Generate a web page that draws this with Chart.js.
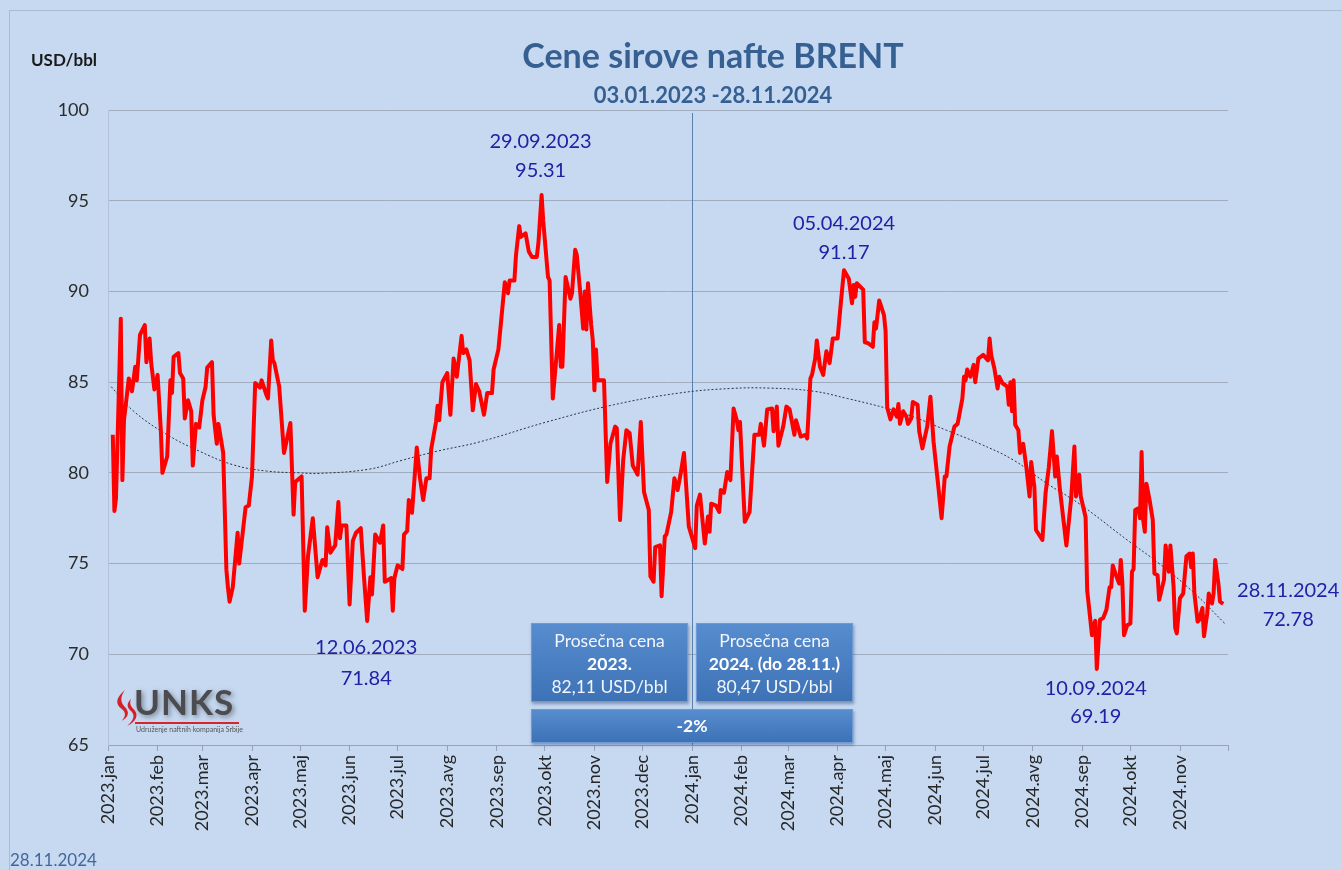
<!DOCTYPE html>
<html>
<head>
<meta charset="utf-8">
<title>Cene sirove nafte BRENT</title>
<script src="https://cdn.jsdelivr.net/npm/chart.js@4.4.1/dist/chart.umd.min.js"></script>
<style>
  body { margin: 0; background: #c6d9f1; font-family: Lato, "Noto Sans", sans-serif; }
  #wrap { position: relative; width: 1342px; height: 870px; overflow: hidden; }
  #c { position: absolute; left: 0; top: 0; }
  .frame { position: absolute; left: 9px; top: 10px; right: -2px; bottom: -2px; border-top: 1px solid #a9bcd6; border-left: 1px solid #a9bcd6; pointer-events: none; }
  .txt { position: absolute; white-space: nowrap; }
  #title { left: 413px; width: 600px; top: 35px; text-align: center; font-size: 34px; font-weight: bold; color: #376092; line-height: 40px; }
  #sub { left: 413px; width: 600px; top: 81px; text-align: center; font-size: 22px; font-weight: bold; color: #376092; line-height: 28px; }
  #unit { left: 31px; top: 50px; font-size: 17px; font-weight: bold; color: #1a1a1a; line-height: 20px; }
  #stamp { left: 10px; top: 850px; font-size: 17px; color: #44679a; line-height: 20px; }
  .box { position: absolute; color: #f2f6fb; text-align: center; font-size: 17.5px; line-height: 23px;
         background: linear-gradient(#578ccf, #3e72b6); border: 1px solid #6d9bd6; box-shadow: 1px 2px 3px rgba(40,60,100,0.45); box-sizing: border-box; }
  .box b { font-weight: bold; color: #ffffff; }
  #logo { position: absolute; left: 110px; top: 686px; width: 134px; height: 48px; }
  #logo .name { position: absolute; left: 24px; top: -6px; font-size: 35px; font-weight: bold; letter-spacing: 1px; color: #4b4b50; text-shadow: 2px 2px 5px rgba(50,50,50,0.5); }
  #logo .bar { position: absolute; left: 25px; top: 36px; width: 104px; height: 2px; background: #d6262b; }
  #logo .small { position: absolute; left: 26px; top: 39px; font-size: 7px; color: #555; }
</style>
</head>
<body>
<div id="wrap">
  <canvas id="c" width="1342" height="870"></canvas>
  <div class="frame"></div>
  <div class="txt" id="title">Cene sirove nafte BRENT</div>
  <div class="txt" id="sub">03.01.2023 -28.11.2024</div>
  <div class="txt" id="unit">USD/bbl</div>
  <div class="txt" id="stamp">28.11.2024</div>

  <div class="box" style="left:531px;top:623px;width:157px;height:79px;padding-top:5px;">Prosečna cena<br><b>2023.</b><br>82,11 USD/bbl</div>
  <div class="box" style="left:696px;top:623px;width:157px;height:79px;padding-top:5px;">Prosečna cena<br><b>2024. (do 28.11.)</b><br>80,47 USD/bbl</div>
  <div class="box" style="left:531px;top:709px;width:322px;height:34px;line-height:32px;"><b>-2%</b></div>

  <div id="logo">
    <svg width="28" height="38" viewBox="0 0 26 36" style="position:absolute;left:2px;top:3px;">
      <path d="M12 1 C4 8 2 14 9 19 C13 22 13 26 9 30 C15 27 17 22 12 17 C7 12 8 7 12 1 Z" fill="#d42127"/>
      <path d="M18 9 C13 14 14 18 18 21 C22 25 20 30 14 35 C23 31 25 25 21 20 C17 16 16 13 18 9 Z" fill="#d42127"/>
    </svg>
    <div class="name">UNKS</div>
    <div class="bar"></div>
    <div class="small">Udruženje naftnih kompanija Srbije</div>
  </div>
</div>

<script>
// dnevne cene BRENT, dan = broj dana od 01.01.2023.
const priceDay = [
  3, 4, 5, 8, 9, 10, 13, 15, 17, 18, 20, 23, 24, 26, 27, 29, 31, 33, 34, 37,
  39, 40, 41, 44, 45, 47, 48, 50, 52, 53, 55, 57, 59, 61, 62, 65, 66, 68, 69, 72,
  74, 75, 76, 78, 81, 82, 86, 88, 90, 92, 95, 96, 99, 100, 102, 103, 104, 107, 110, 114,
  116, 117, 121, 123, 125, 128, 131, 134, 136, 137, 139, 142, 144, 145, 146, 149, 151, 153, 155, 158,
  160, 162, 164, 165, 167, 170, 172, 173, 175, 177, 178, 179, 181, 184, 185, 187, 188, 190, 193, 195,
  197, 199, 201, 202, 205, 206, 207, 209, 212, 214, 216, 218, 221, 222, 224, 226, 228, 230, 232, 235,
  237, 240, 241, 244, 248, 250, 251, 254, 255, 257, 258, 261, 263, 265, 268, 269, 271, 272, 275, 276,
  278, 279, 282, 283, 284, 286, 289, 290, 292, 293, 295, 297, 298, 299, 300, 302, 303, 304, 305, 306,
  310, 312, 314, 317, 318, 320, 322, 324, 326, 328, 331, 333, 335, 338, 339, 341, 342, 345, 346, 348,
  349, 352, 354, 356, 358, 360, 363, 367, 368, 370, 373, 375, 376, 377, 380, 382, 383, 385, 387, 389,
  391, 393, 394, 395, 398, 401, 404, 407, 408, 410, 412, 415, 416, 418, 419, 422, 424, 426, 429, 430,
  433, 436, 437, 439, 440, 442, 443, 445, 447, 449, 451, 453, 456, 458, 460, 463, 465, 466, 467, 468,
  472, 473, 475, 478, 479, 480, 482, 485, 486, 487, 489, 491, 493, 494, 495, 497, 499, 500, 502, 503,
  506, 507, 509, 512, 514, 516, 519, 521, 523, 524, 526, 529, 531, 534, 535, 536, 537, 539, 541, 542,
  544, 547, 549, 550, 551, 552, 554, 556, 557, 559, 562, 563, 564, 565, 566, 567, 569, 570, 572, 574,
  576, 577, 579, 580, 584, 586, 588, 590, 592, 593, 595, 599, 602, 604, 605, 607, 608, 611, 612, 613,
  615, 617, 618, 620, 622, 624, 626, 627, 628, 630, 632, 633, 634, 635, 637, 639, 640, 641, 642, 644,
  645, 646, 647, 648, 649, 651, 653, 654, 656, 657, 660, 661, 663, 664, 666, 667, 668, 670, 672, 674,
  676, 677, 678, 679, 681, 682, 684, 685, 687, 688, 690, 691, 692, 694, 695, 697
];
const priceUSD = [
  82.1, 77.9, 78.6, 88.5, 79.6, 82.9, 85.2, 84.5, 85.85, 85.1, 87.6, 88.15, 86.1, 87.4, 86.05, 84.6, 85.4, 82.4, 80.0, 80.9,
  85.1, 84.4, 86.4, 86.6, 85.5, 85.2, 83.0, 84.0, 83.4, 80.4, 82.7, 82.5, 84.0, 84.75, 85.8, 86.1, 83.2, 81.6, 82.7, 81.1,
  74.65, 73.65, 72.9, 73.7, 76.7, 75.0, 78.1, 78.2, 79.8, 84.95, 84.7, 85.1, 84.3, 84.1, 87.3, 86.2, 86.05, 84.75, 81.1, 82.75,
  77.7, 79.5, 79.8, 72.4, 75.4, 77.5, 74.25, 75.2, 74.9, 77.0, 75.6, 76.0, 78.4, 76.4, 77.1, 77.1, 72.75, 76.25, 76.7, 76.95,
  74.25, 71.84, 74.25, 73.3, 76.6, 76.15, 77.1, 74.0, 74.1, 74.2, 72.4, 74.2, 74.9, 74.7, 76.6, 76.8, 78.5, 77.8, 81.4, 79.7,
  78.5, 79.7, 79.7, 81.3, 82.8, 83.7, 82.9, 85.0, 85.5, 83.2, 86.3, 85.3, 87.55, 86.6, 86.8, 86.2, 83.45, 84.9, 84.5, 83.2,
  84.4, 84.4, 85.7, 86.8, 90.5, 89.9, 90.6, 90.6, 92.0, 93.6, 93.0, 93.2, 92.2, 91.9, 91.9, 92.65, 95.31, 93.9, 90.8, 90.6,
  84.1, 85.1, 88.15, 85.85, 85.85, 90.8, 89.6, 89.9, 92.3, 92.0, 90.1, 87.95, 90.0, 87.9, 90.45, 88.15, 87.3, 84.55, 86.8, 85.1,
  85.1, 79.5, 81.6, 82.55, 82.45, 77.4, 80.7, 82.35, 82.2, 80.4, 79.9, 82.8, 78.95, 77.95, 74.3, 74.0, 75.9, 76.0, 73.2, 76.5,
  76.6, 77.85, 79.7, 79.05, 80.0, 81.1, 77.05, 75.85, 78.2, 78.8, 76.1, 77.6, 76.75, 78.3, 78.2, 77.85, 79.05, 78.9, 80.05, 79.6,
  83.55, 82.9, 82.35, 82.8, 77.3, 77.85, 82.1, 82.1, 82.7, 81.5, 83.5, 83.55, 82.3, 83.65, 81.5, 82.55, 83.65, 83.5, 82.1, 82.9,
  82.0, 82.1, 81.9, 85.2, 85.4, 86.3, 87.3, 85.85, 85.4, 86.7, 86.05, 87.4, 87.4, 89.35, 91.17, 90.7, 89.35, 90.35, 89.7, 90.45,
  90.1, 87.2, 87.15, 86.95, 88.3, 87.95, 89.5, 88.7, 87.8, 83.6, 82.95, 83.5, 83.1, 83.8, 82.7, 83.4, 83.1, 82.7, 83.0, 83.9,
  83.75, 82.3, 81.35, 82.55, 84.2, 81.7, 79.2, 77.5, 79.8, 79.8, 81.45, 82.55, 82.7, 84.1, 85.3, 85.1, 85.7, 85.3, 85.95, 85.0,
  86.3, 86.5, 86.3, 86.2, 87.4, 86.5, 85.75, 84.65, 85.3, 84.95, 84.75, 83.75, 85.0, 83.4, 85.1, 82.65, 82.35, 81.1, 81.6, 80.3,
  78.7, 80.6, 79.2, 76.85, 76.3, 78.9, 80.3, 82.3, 79.8, 80.9, 79.05, 76.0, 78.6, 81.45, 78.7, 79.9, 78.7, 77.55, 73.5, 72.7,
  71.05, 71.85, 69.19, 71.9, 72.0, 72.45, 73.7, 73.7, 74.9, 74.35, 73.9, 75.2, 73.9, 71.05, 71.6, 71.7, 74.55, 74.7, 77.95, 78.05,
  77.5, 81.15, 77.4, 76.75, 79.4, 78.5, 77.4, 74.45, 74.35, 73.0, 74.1, 76.0, 74.55, 76.0, 73.7, 71.45, 71.15, 73.1, 73.35, 75.4,
  75.55, 74.8, 75.55, 73.35, 71.8, 71.9, 72.55, 71.0, 72.25, 73.35, 72.8, 73.35, 75.2, 73.9, 72.9, 72.78
];

// polinomski trend (očitano sa grafika)
const trendDay = [2, 16, 37, 57, 78, 99, 120, 132, 163, 184, 206, 232, 274, 316, 357, 389, 414, 441, 462, 487, 503, 524, 545, 566, 587, 607, 637, 657, 678, 698];
const trendUSD = [84.75, 83.4, 82.1, 81.2, 80.45, 80.1, 80.0, 79.97, 80.2, 80.7, 81.2, 81.7, 82.8, 83.75, 84.4, 84.65, 84.67, 84.5, 84.1, 83.55, 83.1, 82.35, 81.6, 80.7, 79.4, 78.3, 76.3, 75.0, 73.45, 71.7];

const monthLabels = ['2023.jan', '2023.feb', '2023.mar', '2023.apr', '2023.maj', '2023.jun', '2023.jul', '2023.avg',
  '2023.sep', '2023.okt', '2023.nov', '2023.dec', '2024.jan', '2024.feb', '2024.mar', '2024.apr', '2024.maj',
  '2024.jun', '2024.jul', '2024.avg', '2024.sep', '2024.okt', '2024.nov'];
const yTicks = [65, 70, 75, 80, 85, 90, 95, 100];

// oznake ekstrema
const noteDates = ['29.09.2023', '12.06.2023', '05.04.2024', '10.09.2024', '28.11.2024'];
const noteValues = [95.31, 71.84, 91.17, 69.19, 72.78];
const noteOffsets = [[-1, -54, -25], [-1, 27, 58], [0, -47, -18], [-1, 20, 48], [65, -13, 16]];

const DAY = 86400000;
const start = Date.UTC(2023, 0, 1);
function dayOf(s) {
  const p = s.split('.');
  return Math.round((Date.UTC(+p[2], +p[1] - 1, +p[0]) - start) / DAY);
}
// granice meseci (poslednja je 01.12.2024)
const tickDays = [];
for (let i = 0; i <= monthLabels.length; i++) tickDays.push(Math.round((Date.UTC(2023, i, 1) - start) / DAY));
const yearSplit = dayOf('01.01.2024');

const extras = {
  id: 'extras',
  beforeDatasetsDraw(chart) {
    const { ctx, chartArea, scales: { x } } = chart;
    const px = Math.round(x.getPixelForValue(yearSplit)) + 0.5;
    ctx.save();
    ctx.strokeStyle = '#5b80ad';
    ctx.lineWidth = 1;
    ctx.beginPath();
    ctx.moveTo(px, chartArea.top + 3);
    ctx.lineTo(px, chartArea.bottom);
    ctx.stroke();
    ctx.restore();
  },
  afterDatasetsDraw(chart) {
    const { ctx, scales: { x, y } } = chart;
    ctx.save();
    ctx.font = '20px Lato, "Noto Sans", sans-serif';
    ctx.fillStyle = '#2121a6';
    ctx.textAlign = 'center';
    ctx.textBaseline = 'middle';
    noteDates.forEach((d, i) => {
      const px = x.getPixelForValue(dayOf(d));
      const py = y.getPixelForValue(noteValues[i]);
      const o = noteOffsets[i];
      ctx.fillText(d, px + o[0], py + o[1]);
      ctx.fillText(noteValues[i].toFixed(2), px + o[0], py + o[2]);
    });
    ctx.restore();
  }
};

new Chart(document.getElementById('c'), {
  type: 'line',
  data: {
    datasets: [
      {
        data: priceDay.map((d, i) => ({ x: d, y: priceUSD[i] })),
        borderColor: '#ff0000',
        borderWidth: 4,
        pointRadius: 0,
        tension: 0,
        borderJoinStyle: 'round',
        order: 0
      },
      {
        data: trendDay.map((d, i) => ({ x: d, y: trendUSD[i] })),
        borderColor: '#2b3440',
        borderWidth: 1,
        borderDash: [2, 2],
        pointRadius: 0,
        tension: 0.4,
        order: 1
      }
    ]
  },
  options: {
    responsive: false,
    animation: false,
    layout: { padding: { top: 110, right: 114, bottom: 0, left: 0 } },
    plugins: { legend: { display: false }, tooltip: { enabled: false } },
    scales: {
      x: {
        type: 'linear',
        min: 0,
        max: tickDays[tickDays.length - 1],
        afterBuildTicks: (s) => { s.ticks = tickDays.map(v => ({ value: v })); },
        afterFit: (s) => { s.height = 125; },
        ticks: {
          autoSkip: false,
          minRotation: 90,
          maxRotation: 90,
          padding: 4,
          color: '#262626',
          font: { family: 'Lato, "Noto Sans", sans-serif', size: 18 },
          callback: (v) => {
            const i = tickDays.indexOf(v);
            return i >= 0 && i < monthLabels.length ? monthLabels[i] : '';
          }
        },
        grid: { drawOnChartArea: false, drawTicks: true, tickLength: 6, color: '#94a3b8' },
        border: { display: true, color: '#94a3b8', width: 1 }
      },
      y: {
        min: 65,
        max: 100,
        afterBuildTicks: (s) => { s.ticks = yTicks.map(v => ({ value: v })); },
        afterFit: (s) => { s.width = 108; },
        ticks: {
          padding: 19,
          color: '#2b2b2b',
          font: { family: 'Lato, "Noto Sans", sans-serif', size: 18 }
        },
        grid: { drawTicks: false, color: '#a0acbe', lineWidth: 1 },
        border: { display: true, color: '#b3c2d7', width: 1 }
      }
    }
  },
  plugins: [extras]
});
</script>
</body>
</html>
